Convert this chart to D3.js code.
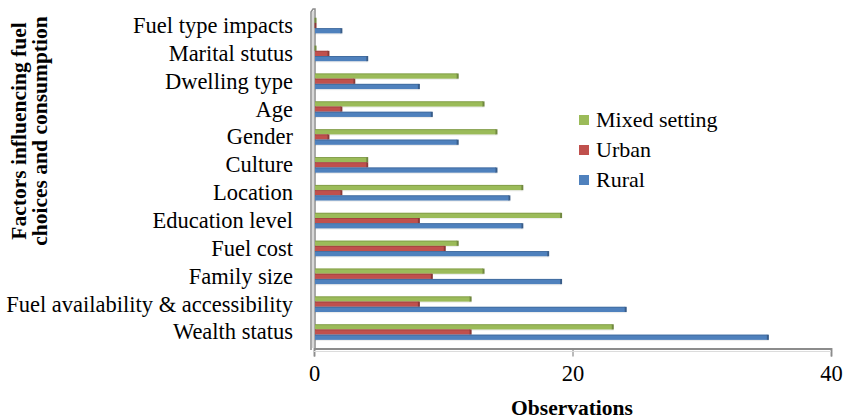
<!DOCTYPE html>
<html><head><meta charset="utf-8">
<script src="https://cdn.jsdelivr.net/npm/d3@7/dist/d3.min.js"></script>
<style>body{margin:0;background:#fff}svg{display:block}</style>
</head><body><svg id="c" width="845" height="419"></svg>
<script>
const categories = ["Fuel type impacts","Marital stutus","Dwelling type","Age","Gender","Culture","Location","Education level","Fuel cost","Family size","Fuel availability & accessibility","Wealth status"];
const seriesNames = ["Mixed setting","Urban","Rural"];
const mixed = [0,0,11,13,14,4,16,19,11,13,12,23];
const urban = [0,1,3,2,1,4,2,8,10,9,8,12];
const rural = [2,4,8,9,11,14,15,16,18,19,24,35];
const xTicks = [0,20,40];
const colors = ["#9bbb59","#c0504d","#4f81bd"];
const darkColors = ["#71893f","#8c3836","#385d8a"];

const svg = d3.select("#c");
const font = "Liberation Serif";
const x = d3.scaleLinear().domain([0,40]).range([314,831]);
const y = d3.scaleBand().domain(categories).range([11.6,346]).paddingInner(0.44).paddingOuter(0.22);
const sub = d3.scaleBand().domain(seriesNames).range([0,y.bandwidth()]);
const series = [mixed, urban, rural];

// left axis (wall edge)
svg.append("path").attr("d",`M311,350 L311,12 L313,9 L315,9 L315,348`)
  .attr("fill","none").attr("stroke","#8c8c8c").attr("stroke-width",1.5);
svg.append("line").attr("x1",313).attr("x2",313).attr("y1",11).attr("y2",348).attr("stroke","#d8d8d8").attr("stroke-width",2);

// bottom axis
const xAxis = d3.axisBottom(x).tickValues(xTicks).tickSize(8).tickFormat(d3.format("d"));
const ax = svg.append("g").attr("transform","translate(0,348.5)").call(xAxis);
ax.select(".domain").attr("stroke","#8c8c8c").attr("stroke-width",1.8);
ax.selectAll(".tick line").attr("stroke","#8c8c8c").attr("stroke-width",1.2);
ax.selectAll(".tick text").attr("font-family",font).attr("font-size",22.5).attr("fill","#000").attr("y",32).attr("dy",0);
svg.append("line").attr("x1",x(0)).attr("x2",x(40)).attr("y1",351.5).attr("y2",351.5).attr("stroke","#dcdcdc").attr("stroke-width",1.2);

// bars
series.forEach((vals,si)=>{
  const g = svg.append("g");
  vals.forEach((v,i)=>{
    const y0 = y(categories[i]) + sub(seriesNames[si]);
    const h = sub.bandwidth();
    const x0 = x(0)+1, x1 = x(v)+1;
    const w = Math.max(0,x1-x0);
    g.append("rect").attr("x",x0).attr("y",y0+1.2).attr("width",w+1.5).attr("height",h).attr("fill","#000").attr("opacity",0.07);
    g.append("rect").attr("x",x0).attr("y",y0).attr("width",w).attr("height",h).attr("fill",colors[si]);
    g.append("rect").attr("x",x0).attr("y",y0).attr("width",w).attr("height",0.9).attr("fill",darkColors[si]).attr("opacity",0.6);
    g.append("rect").attr("x",x1-0.5).attr("y",y0).attr("width",2).attr("height",h).attr("fill",darkColors[si]);
  });
});

// category labels
svg.append("g").selectAll("text").data(categories).join("text")
  .attr("x",293).attr("y",d=>y(d)+y.bandwidth()/2).attr("dy","0.33em")
  .attr("text-anchor","end").attr("font-family",font).attr("font-size",22.5).attr("fill","#000").text(d=>d);

// axis titles
svg.append("text").attr("x",572).attr("y",415).attr("text-anchor","middle").attr("font-family",font)
  .attr("font-size",21.5).attr("font-weight","bold").text("Observations");
const yt = svg.append("text").attr("transform","translate(0,131) rotate(-90)").attr("text-anchor","middle")
  .attr("font-family",font).attr("font-size",21.5).attr("font-weight","bold");
yt.append("tspan").attr("x",0).attr("y",26).text("Factors influencing fuel");
yt.append("tspan").attr("x",0).attr("y",47).text("choices and consumption");

// legend
const leg = svg.append("g");
seriesNames.forEach((n,i)=>{
  const ly = 127 + i*30;
  leg.append("rect").attr("x",579).attr("y",ly-12).attr("width",10).attr("height",10).attr("fill",colors[i]);
  leg.append("text").attr("x",596).attr("y",ly).attr("font-family",font).attr("font-size",22).text(n);
});
</script></body></html>
